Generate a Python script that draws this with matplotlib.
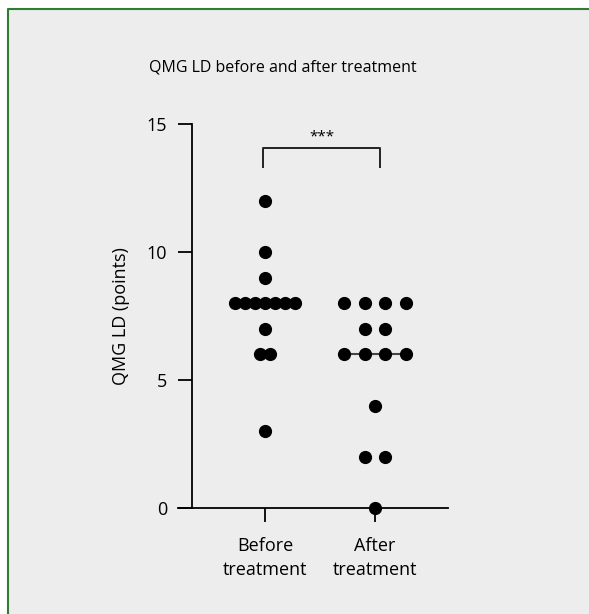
import numpy as np
import matplotlib.pyplot as plt
from matplotlib.patches import Rectangle
from matplotlib.lines import Line2D

plt.rcParams['font.family'] = ['Open Sans', 'DejaVu Sans']

groups = ["Before\ntreatment", "After\ntreatment"]
before = [12, 10, 9, 8, 8, 8, 8, 8, 8, 8, 7, 6, 6, 3]
after = [8, 8, 8, 8, 7, 7, 6, 6, 6, 6, 4, 2, 2, 0]
yticks = [0, 5, 10, 15]
sig_label = "***"

# horizontal spacing of stacked dots per group (data units)
spread = [0.091, 0.186]

fig = plt.figure(figsize=(5.89, 6.14), dpi=100)
fig.patch.set_facecolor('white')
x0, y0 = 8 / 589, 1 - 9 / 614
fig.patches.append(Rectangle((x0, 0), 1 - x0, y0, transform=fig.transFigure,
                             facecolor='#ededed', edgecolor='none', zorder=-10))
fig.lines.append(Line2D([x0, x0, 1], [0, y0, y0], transform=fig.transFigure,
                        color='#2e7d32', lw=1.5))

ax = fig.add_axes([178 / 589, 106 / 614, 270 / 589, 384 / 614])
ax.set_facecolor('none')

for i, vals in enumerate([before, after]):
    vals = np.array(vals)
    xc = i + 1
    xs, ys = [], []
    for v in sorted(set(vals), reverse=True):
        n = int((vals == v).sum())
        off = (np.arange(n) - (n - 1) / 2) * spread[i]
        xs.extend(xc + off)
        ys.extend([v] * n)
    med = np.median(vals)
    ax.plot([xc - 0.28, xc + 0.28], [med, med], color='#444444', lw=1.5, zorder=2)
    ax.scatter(xs, ys, s=72, color='black', zorder=3, clip_on=False)

ax.set_xlim(0.209, 2.664)
ax.set_ylim(0, 15)
ax.set_xticks([1, 2])
ax.set_xticklabels(groups, fontsize=13, linespacing=1.45)
ax.set_yticks(yticks)
ax.tick_params(axis='y', labelsize=13, length=10, width=1.3, pad=8)
ax.tick_params(axis='x', length=10, width=1.3, pad=11)

ax.spines['top'].set_visible(False)
ax.spines['right'].set_visible(False)
ax.spines['left'].set_position(('axes', 14 / 270))
ax.spines['left'].set_linewidth(1.3)
ax.spines['bottom'].set_linewidth(1.3)

ax.set_ylabel("QMG LD (points)", fontsize=13, labelpad=12)
ax.set_title("QMG LD before and after treatment", fontsize=11.5, pad=38, x=0.39)

# significance bracket
ax.plot([0.98, 0.98, 2.05, 2.05], [13.32, 14.06, 14.06, 13.32],
        color='#222222', lw=1.4, clip_on=False)
ax.text(1.52, 14.2, sig_label, ha='center', va='bottom', fontsize=11)

fig.savefig('out.png', dpi=100)
